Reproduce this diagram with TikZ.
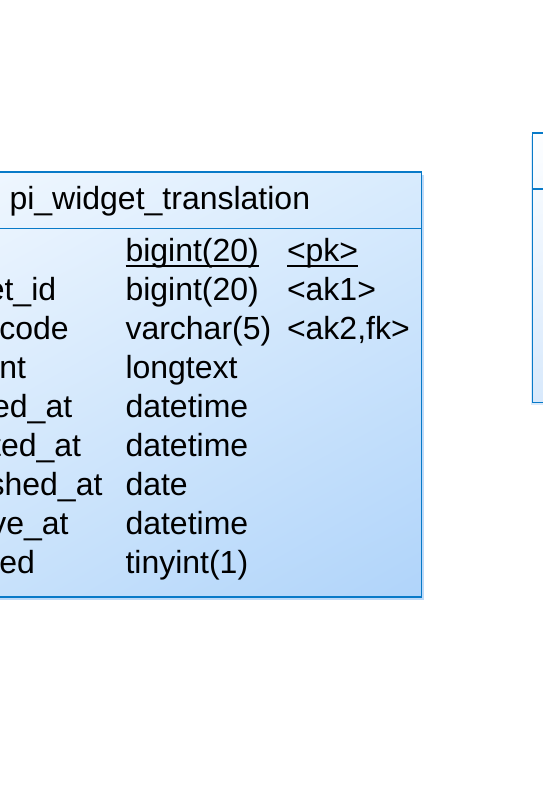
\documentclass[tikz,border=0pt]{standalone}
\usepackage{fontspec}
\usetikzlibrary{shadings}
\setmainfont{Liberation Sans}
\definecolor{bord}{RGB}{8,122,200}
\definecolor{gUL}{RGB}{244,249,255}
\definecolor{gUR}{RGB}{216,235,253}
\definecolor{gLL}{RGB}{204,228,251}
\definecolor{gLR}{RGB}{176,212,250}
\definecolor{shadA}{RGB}{190,218,248}
\definecolor{shadB}{RGB}{218,234,251}
\definecolor{rUL}{RGB}{253,254,255}
\definecolor{rUR}{RGB}{232,242,254}
\definecolor{rLL}{RGB}{216,233,252}
\definecolor{rLR}{RGB}{190,218,249}
\begin{document}
\begin{tikzpicture}[x=1pt,y=-1pt,
  txt/.style={inner sep=0pt, outer sep=0pt, anchor=base west, font=\fontsize{32}{38}\selectfont},
  boxline/.style={draw=bord, line width=1.3pt},
  uline/.style={line width=1.8pt, black}]
\useasboundingbox (0,0) rectangle (543,792);
\clip (0,0) rectangle (543,792);
\fill[white] (0,0) rectangle (543,792);

% right table (mostly off canvas)
\fill[shadB] (531,136) rectangle (1100,405);
\shade[upper left=rUL, upper right=rUR, lower left=rLL, lower right=rLR] (532.3,133) rectangle (1060,402.3);
\draw[boxline] (532.3,133) rectangle (1060,402.3);
\draw[boxline] (532.3,189) -- (1060,189);

% main table
\fill[shadA] (-100,175) rectangle (424,599.5);
\shade[upper left=gUL, upper right=gUR, lower left=gLL, lower right=gLR] (-103,172) rectangle (421.7,597);
\draw[boxline] (-103,172) rectangle (421.7,597);
\draw[boxline] (-103,228.3) -- (421.7,228.3);

\node[txt] (title) at (9.5,209.5) {pi\_widget\_translation};

% column names
\node[txt] (n1) at (-79,261.5) {id};
\node[txt] (n2) at (-79,300.5) {widget\_id};
\node[txt] (n3) at (-79,339.5) {lang\_code};
\node[txt] (n4) at (-79,378.5) {content};
\node[txt] (n5) at (-79,417.5) {created\_at};
\node[txt] (n6) at (-79,456.5) {updated\_at};
\node[txt] (n7) at (-79,495.5) {published\_at};
\node[txt] (n8) at (-79,534.5) {archive\_at};
\node[txt] (n9) at (-79,573.5) {enabled};

% types
\node[txt] (t1) at (125.5,261.5) {bigint(20)};
\node[txt] (t2) at (125.5,300.5) {bigint(20)};
\node[txt] (t3) at (125.5,339.5) {varchar(5)};
\node[txt] (t4) at (125.5,378.5) {longtext};
\node[txt] (t5) at (125.5,417.5) {datetime};
\node[txt] (t6) at (125.5,456.5) {datetime};
\node[txt] (t7) at (125.5,495.5) {date};
\node[txt] (t8) at (125.5,534.5) {datetime};
\node[txt] (t9) at (125.5,573.5) {tinyint(1)};

% keys
\node[txt] (k1) at (287,261.5) {<pk>};
\node[txt] (k2) at (287,300.5) {<ak1>};
\node[txt] (k3) at (287,339.5) {<ak2,fk>};

% underlines of primary key
\draw[uline] ([yshift=-4.8pt]t1.base west) -- ([yshift=-4.8pt]t1.base east);
\draw[uline] ([yshift=-4.8pt]k1.base west) -- ([yshift=-4.8pt]k1.base east);
\end{tikzpicture}
\end{document}
